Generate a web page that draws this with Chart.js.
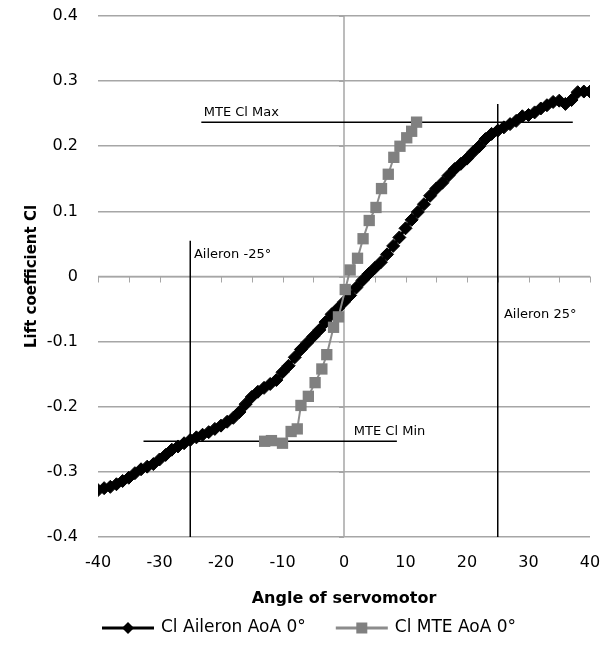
<!DOCTYPE html>
<html><head><meta charset="utf-8">
<script src="https://cdn.jsdelivr.net/npm/chart.js@4/dist/chart.umd.min.js"></script>
<style>html,body{margin:0;padding:0;background:#fff}</style>
</head><body>
<canvas id="c" width="602" height="650"></canvas>
<script>
// ---- data ----
const aileronAngle = [-40,-39,-38,-37,-36,-35,-34,-33,-32,-31,-30,-29,-28,-27,-26,-25,-24,-23,-22,-21,-20,-19,-18,-17,-16,-15,-14,-13,-12,-11,-10,-9,-8,-7,-6,-5,-4,-3,-2,-1,0,1,2,3,4,5,6,7,8,9,10,11,12,13,14,15,16,17,18,19,20,21,22,23,24,25,26,27,28,29,30,31,32,33,34,35,36,37,38,39,40];
const aileronCl = [-0.328,-0.325,-0.323,-0.319,-0.314,-0.309,-0.302,-0.296,-0.292,-0.288,-0.281,-0.274,-0.266,-0.261,-0.256,-0.251,-0.247,-0.243,-0.239,-0.234,-0.229,-0.223,-0.217,-0.208,-0.196,-0.185,-0.177,-0.171,-0.165,-0.159,-0.147,-0.137,-0.124,-0.112,-0.102,-0.092,-0.082,-0.070,-0.058,-0.049,-0.039,-0.029,-0.017,-0.006,0.004,0.013,0.022,0.034,0.047,0.060,0.074,0.087,0.099,0.111,0.124,0.135,0.144,0.155,0.165,0.173,0.181,0.191,0.200,0.211,0.219,0.224,0.229,0.234,0.239,0.246,0.248,0.252,0.258,0.263,0.268,0.270,0.265,0.271,0.283,0.284,0.284];
const mteAngle = [-12.9,-11.8,-10,-8.6,-7.6,-7,-5.8,-4.7,-3.6,-2.8,-1.7,-0.9,0.2,1,2.2,3.1,4.1,5.2,6.1,7.2,8.1,9.1,10.2,11,11.8];
const mteCl = [-0.253,-0.252,-0.256,-0.238,-0.234,-0.198,-0.184,-0.163,-0.142,-0.12,-0.078,-0.062,-0.02,0.01,0.028,0.058,0.086,0.106,0.135,0.157,0.183,0.2,0.213,0.223,0.237];

const aileronNeg25X = [-25,-25], aileronNeg25Y = [0.055,-0.4];
const aileronPos25X = [25,25],   aileronPos25Y = [0.265,-0.4];
const mteClMaxX = [-23.2,37.2],  mteClMaxY = [0.237,0.237];
const mteClMinX = [-32.6,8.6],   mteClMinY = [-0.253,-0.253];

const xTicks = [-40,-30,-20,-10,0,10,20,30,40];
const xMinorTicks = [-40,-35,-30,-25,-20,-15,-10,-5,0,5,10,15,20,25,30,35,40];
const yTicks = [-0.4,-0.3,-0.2,-0.1,0,0.1,0.2,0.3,0.4];
const yTickLabels = ['-0.4','-0.3','-0.2','-0.1','0','0.1','0.2','0.3','0.4'];

const seriesNames = ['Cl Aileron AoA 0°','Cl MTE AoA 0°'];
const noteTexts = ['MTE Cl Max','Aileron -25°','Aileron 25°','MTE Cl Min'];
const noteX = [-22.8,-24.4,26,1.6];
const noteY = [0.252,0.034,-0.058,-0.238];

// ---- helpers ----
const pts = (xs, ys) => xs.map((x, i) => ({x, y: ys[i]}));
const FONT = 'DejaVu Sans';
const GRID = '#a6a6a6';

const refLine = (xs, ys) => ({
  data: pts(xs, ys), borderColor: '#000', borderWidth: 1.5, pointRadius: 0,
  showLine: true, order: 5, label: ''
});

const axesPlugin = {
  id: 'zeroAxes',
  beforeDatasetsDraw(chart) {
    const {ctx, chartArea: a, scales: {x, y}} = chart;
    ctx.save();
    ctx.strokeStyle = GRID; ctx.lineWidth = 1.5;
    const x0 = x.getPixelForValue(0), y0 = y.getPixelForValue(0);
    ctx.beginPath(); ctx.moveTo(x0, a.top); ctx.lineTo(x0, a.bottom); ctx.stroke();
    ctx.beginPath(); ctx.moveTo(a.left, y0); ctx.lineTo(a.right, y0); ctx.stroke();
    ctx.lineWidth = 1;
    yTicks.forEach(v => { const p = Math.round(y.getPixelForValue(v)) + 0.5; ctx.beginPath(); ctx.moveTo(x0 - 5, p); ctx.lineTo(x0, p); ctx.stroke(); });
    xMinorTicks.forEach(v => { const p = Math.round(x.getPixelForValue(v)) + 0.5; ctx.beginPath(); ctx.moveTo(p, y0); ctx.lineTo(p, y0 + 6); ctx.stroke(); });
    ctx.restore();
  },
  afterDatasetsDraw(chart) {
    const {ctx, scales: {x, y}} = chart;
    ctx.save();
    ctx.fillStyle = '#000'; ctx.font = '13px "' + FONT + '"';
    ctx.textAlign = 'left'; ctx.textBaseline = 'middle';
    noteTexts.forEach((t, i) => ctx.fillText(t, x.getPixelForValue(noteX[i]), y.getPixelForValue(noteY[i])));
    ctx.restore();
  },
  afterDraw(chart) {
    const {ctx} = chart;
    ctx.save();
    ctx.font = '17px "' + FONT + '"'; ctx.textBaseline = 'middle'; ctx.textAlign = 'left';
    const yy = 628; let cx = 102;
    const ds = [chart.data.datasets[1], chart.data.datasets[0]];
    ds.forEach(d => {
      ctx.strokeStyle = d.borderColor; ctx.lineWidth = 3;
      ctx.beginPath(); ctx.moveTo(cx, yy); ctx.lineTo(cx + 52, yy); ctx.stroke();
      const mx = cx + 26;
      ctx.fillStyle = d.pointBackgroundColor;
      ctx.beginPath();
      if (d.pointStyle === 'rectRot') {
        const r = 6; ctx.moveTo(mx, yy - r); ctx.lineTo(mx + r, yy); ctx.lineTo(mx, yy + r); ctx.lineTo(mx - r, yy); ctx.closePath();
      } else {
        const h = 5.5; ctx.rect(mx - h, yy - h, 2 * h, 2 * h);
      }
      ctx.fill();
      ctx.fillStyle = '#000';
      ctx.fillText(d.label, cx + 59, yy);
      cx += 59 + ctx.measureText(d.label).width + 30;
    });
    ctx.restore();
  }
};

new Chart(document.getElementById('c'), {
  type: 'scatter',
  data: {
    datasets: [
      { label: seriesNames[1], data: pts(mteAngle, mteCl), showLine: true,
        borderColor: '#8c8c8c', borderWidth: 2, pointStyle: 'rect', pointRadius: 8,
        pointBackgroundColor: '#808080', pointBorderColor: '#808080', pointBorderWidth: 0, order: 1 },
      { label: seriesNames[0], data: pts(aileronAngle, aileronCl), showLine: true,
        borderColor: '#000', borderWidth: 3, pointStyle: 'rectRot', pointRadius: 6.5,
        pointBackgroundColor: '#000', pointBorderColor: '#000', pointBorderWidth: 1, order: 2 },
      refLine(aileronNeg25X, aileronNeg25Y),
      refLine(aileronPos25X, aileronPos25Y),
      refLine(mteClMaxX, mteClMaxY),
      refLine(mteClMinX, mteClMinY)
    ]
  },
  options: {
    responsive: false, animation: false, devicePixelRatio: 1,
    layout: {padding: {top: 16, left: 0, right: 12, bottom: 0}},
    plugins: {legend: {display: false}, tooltip: {enabled: false}},
    scales: {
      x: {
        type: 'linear', min: -40, max: 40,
        afterBuildTicks: s => { s.ticks = xTicks.map(v => ({value: v})); },
        afterFit: s => { s.height = 113; s.paddingLeft = 0; s.paddingRight = 0; },
        grid: {display: false, drawTicks: false},
        border: {display: false},
        ticks: {color: '#000', font: {family: FONT, size: 16}, padding: 16, maxRotation: 0},
        title: {display: true, text: 'Angle of servomotor', color: '#000',
                font: {family: FONT, size: 16, weight: 'bold'}, padding: {top: 0, bottom: 42}}
      },
      y: {
        type: 'linear', min: -0.4, max: 0.4,
        afterBuildTicks: s => { s.ticks = yTicks.map(v => ({value: v})); },
        afterFit: s => { s.width = 98; s.paddingTop = 0; s.paddingBottom = 0; },
        grid: {color: GRID, lineWidth: 1.5, drawTicks: false},
        border: {display: false},
        ticks: {color: '#000', font: {family: FONT, size: 16}, padding: 20,
                callback: (v, i) => yTickLabels[i]},
        title: {display: true, text: 'Lift coefficient Cl', color: '#000',
                font: {family: FONT, size: 15, weight: 'bold'}, padding: {top: 23, bottom: 0}}
      }
    }
  },
  plugins: [axesPlugin]
});
</script>
</body></html>
